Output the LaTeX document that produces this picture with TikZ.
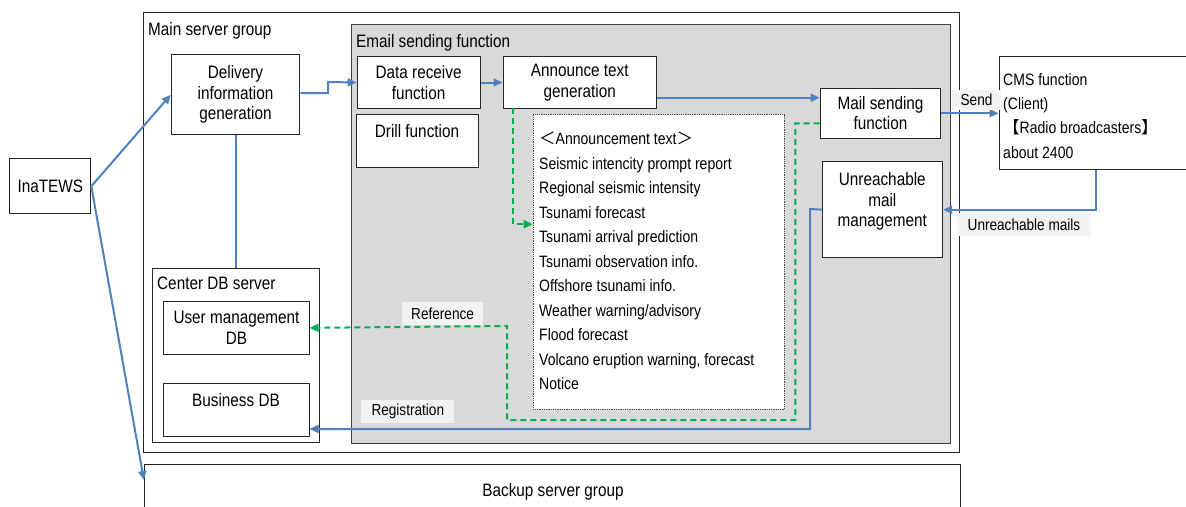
\documentclass[tikz,border=0pt]{standalone}
\usepackage{fontspec}
\setmainfont{Liberation Sans}[FakeStretch=0.85]
\newfontfamily\cjk{Noto Sans CJK JP}
\usetikzlibrary{arrows.meta,calc}
\definecolor{flowblue}{RGB}{79,129,189}
\definecolor{refgreen}{RGB}{0,176,80}
\definecolor{panelgray}{RGB}{217,217,217}
\definecolor{tagfill}{RGB}{242,242,242}

\begin{document}
\begin{tikzpicture}[x=1pt,y=-1pt,
  box/.style={draw=black!85, line width=1pt, fill=white, inner sep=0pt,
    align=center, anchor=north west, font=\fontsize{18}{20.5}\selectfont},
  frame/.style={draw=black!85, line width=1pt, inner sep=0pt, anchor=north west},
  title/.style={inner sep=0pt, anchor=base west, font=\fontsize{18}{20.5}\selectfont},
  caption/.style={inner sep=0pt, anchor=base, align=center, font=\fontsize{18}{20.5}\selectfont},
  listline/.style={inner sep=0pt, anchor=base west, font=\fontsize{16.5}{20}\selectfont},
  tag/.style={fill=tagfill, inner sep=0pt, font=\fontsize{16}{19}\selectfont},
  flow/.style={draw=flowblue, line width=2pt, -{Triangle[length=9pt,width=8pt]}},
  link/.style={draw=flowblue, line width=2pt},
  refline/.style={draw=refgreen, line width=2pt, dash pattern=on 6pt off 4pt,
    -{Triangle[length=9pt,width=8pt]}},
]
\useasboundingbox (0,0) rectangle (1186,506);

% server groups and the mail panel
\node[frame, minimum width=816, minimum height=440.3] (main) at (142.5,12) {};
\node[title] (maint) at (148,35) {Main server group};
\node[frame, fill=panelgray, draw=black!75, minimum width=599, minimum height=419] (email) at (351,24.3) {};
\node[title] (emailt) at (356,47) {Email sending function};
\node[frame, minimum width=816.1, minimum height=70] (backup) at (143.9,464) {};
\node[caption] (backupt) at (553,496) {Backup server group};

% external systems
\node[box, minimum width=81.1, minimum height=55] (inat) at (9.2,158.3) {InaTEWS};
\node[box, minimum width=193.4, minimum height=113.6] (cms) at (998.6,55.7) {};
\foreach \t [count=\i from 0] in {CMS function,(Client),{{\cjk 【}Radio broadcasters{\cjk 】}},about 2400}
  \node[listline] (cms\i) at (1003,85.5+24.2*\i) {\t};

% main server functions
\node[box, minimum width=128.6, minimum height=80] (deliv) at (170.7,54.3) {Delivery\\information\\generation};
\node[box, minimum width=122.8, minimum height=52.6] (datarecv) at (356.7,55.7) {Data receive\\function};
\node[box, minimum width=153.5, minimum height=52.6] (announce) at (502.5,55.7) {Announce text\\generation};
\node[box, minimum width=122.4, minimum height=53] (drill) at (356,114.3) {};
\node[caption] (drillt) at (417,137) {Drill function};
\node[box, minimum width=120.6, minimum height=50] (mail) at (819.7,87.7) {Mail sending\\function};
\node[box, minimum width=119.8, minimum height=96.3] (unreach) at (822.4,161) {};
\node[caption] (unreacht) at (882.3,226.5) {Unreachable\\mail\\management};

% announcement text list
\node[frame, fill=white, draw=black!70, line width=0.8pt, densely dotted,
  minimum width=251, minimum height=294.7] (list) at (532.7,114.3) {};
\foreach \t [count=\i from 0] in {{{\cjk ＜}Announcement text{\cjk ＞}},
  Seismic intencity prompt report, Regional seismic intensity, Tsunami forecast,
  Tsunami arrival prediction, Tsunami observation info., Offshore tsunami info.,
  Weather warning/advisory, Flood forecast, {Volcano eruption warning, forecast}, Notice}
  \node[listline] (ann\i) at (539,144.5+24.5*\i) {\t};

% center DB server
\node[frame, fill=white, minimum width=166.8, minimum height=174.6] (centerdb) at (152,267.7) {};
\node[title] (centerdbt) at (157,289) {Center DB server};
\node[box, minimum width=145.1, minimum height=53.3] (usermgmt) at (163.4,300.7) {User management\\DB};
\node[box, minimum width=145.1, minimum height=52.7] (business) at (163.4,383) {};
\node[caption] (businesst) at (236,406.7) {Business DB};

% connectors
\draw[flow] (inat.east) -- (deliv.west);
\draw[flow] (inat.east) -- ($(backup.north west)+(0,16)$);
\draw[link] (deliv.south) -- (deliv.south |- centerdb.north);
\draw[flow] (deliv.east |- 0,93) -- (328,93) -- (328,82) -- (datarecv.west);
\draw[flow] (datarecv.east) -- (announce.west);
\draw[flow] (announce.east |- 0,97.7) -- (mail.west |- 0,97.7);
\draw[refline] (512.8,108.3) -- (512.8,224.3) -- (list.west |- 0,224.3);
\draw[flow] (mail.east) -- (mail.east -| cms.west);
\draw[flow] (cms.south) |- (unreach.east);
\draw[flow] (unreach.west) -- (810,209) -- (810,429) -- (business.east |- 0,429);
\draw[refline] (mail.west |- 0,123.3) -- (795.3,123.3) -- (795.3,420)
  -- (507,420) -- (507,326) -- (usermgmt.east);

% connector tags
\node[tag, minimum width=49, minimum height=20] (send) at (976.5,100) {Send};
\node[tag, minimum width=134, minimum height=23] (unreachmails) at (1024,224.5) {Unreachable mails};
\node[tag, minimum width=81.6, minimum height=23.3] (reference) at (442.6,313.4) {Reference};
\node[tag, minimum width=93, minimum height=23.6] (registration) at (407.8,411.5) {Registration};
\end{tikzpicture}
\end{document}
